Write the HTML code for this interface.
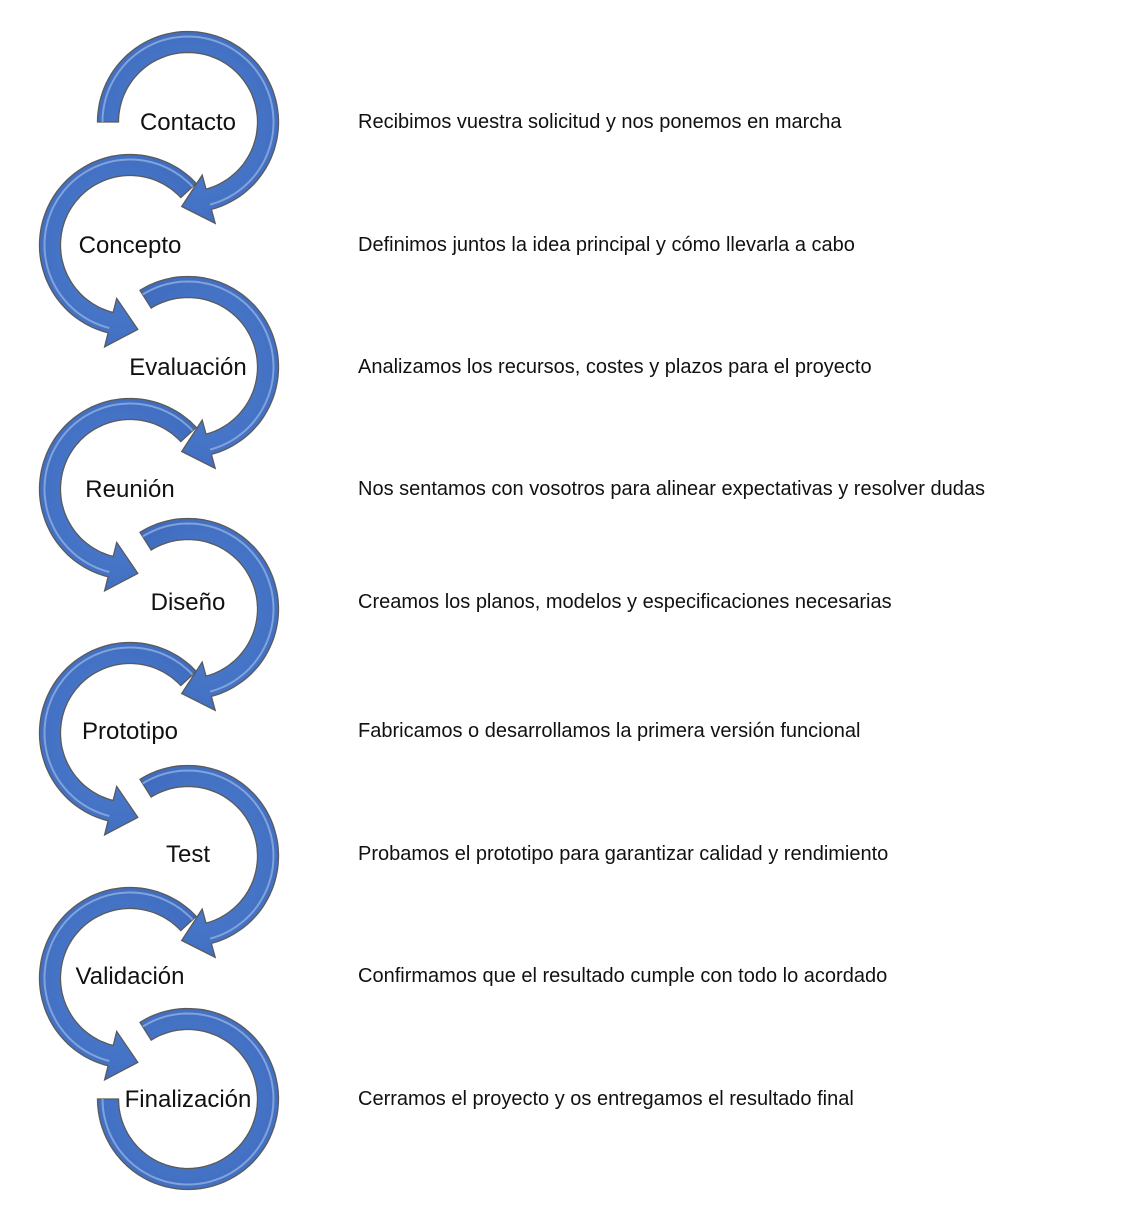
<!DOCTYPE html>
<html><head><meta charset="utf-8"><style>
body{margin:0;background:#fff;width:1138px;height:1206px;overflow:hidden;font-family:"Liberation Sans",sans-serif;}
svg{position:absolute;left:0;top:0}
</style></head><body>
<svg id="s" width="1138" height="1206" xmlns="http://www.w3.org/2000/svg">
<g id="g"></g>
<g font-family="Liberation Sans, sans-serif" fill="#111">
<g font-size="24" text-anchor="middle">
<text x="188" y="130">Contacto</text>
<text x="130" y="253">Concepto</text>
<text x="188" y="375">Evaluación</text>
<text x="130" y="497">Reunión</text>
<text x="188" y="610">Diseño</text>
<text x="130" y="739">Prototipo</text>
<text x="188" y="862">Test</text>
<text x="130" y="984">Validación</text>
<text x="188" y="1107">Finalización</text>
</g>
<g font-size="20">
<text x="358" y="128">Recibimos vuestra solicitud y nos ponemos en marcha</text>
<text x="358" y="251">Definimos juntos la idea principal y cómo llevarla a cabo</text>
<text x="358" y="373">Analizamos los recursos, costes y plazos para el proyecto</text>
<text x="358" y="495">Nos sentamos con vosotros para alinear expectativas y resolver dudas</text>
<text x="358" y="608">Creamos los planos, modelos y especificaciones necesarias</text>
<text x="358" y="737">Fabricamos o desarrollamos la primera versión funcional</text>
<text x="358" y="860">Probamos el prototipo para garantizar calidad y rendimiento</text>
<text x="358" y="982">Confirmamos que el resultado cumple con todo lo acordado</text>
<text x="358" y="1105">Cerramos el proyecto y os entregamos el resultado final</text>
</g></g>
</svg>
<script>
var g=document.getElementById('g'),h='';
var R=80,W=21;
function P(cx,cy,r,a){a=a*Math.PI/180;return [cx+r*Math.cos(a),cy+r*Math.sin(a)];}
function shape(cx,cy,a0,a1,arrow){
 var dir=a1>a0?1:-1,n=80,outer=[],inner=[];
 for(var i=0;i<=n;i++){var a=a0+(a1-a0)*i/n;outer.push(P(cx,cy,R+W/2,a));inner.push(P(cx,cy,R-W/2,a));}
 var pts=outer.slice();
 if(arrow){
  var a=a1*Math.PI/180,tx=-Math.sin(a)*dir,ty=Math.cos(a)*dir;
  var b1=P(cx,cy,R+25,a1),b2=P(cx,cy,R-25,a1),m=P(cx,cy,R,a1);
  pts.push(b1);pts.push([m[0]+tx*28,m[1]+ty*28]);pts.push(b2);
 }
 pts=pts.concat(inner.reverse());
 var d='M'+pts.map(function(p){return p[0].toFixed(1)+','+p[1].toFixed(1)}).join('L')+'Z';
 h+='<path d="'+d+'" fill="url(#gr)" stroke="#5a5a5a" stroke-width="1.3"/>';
 var hl=[];for(var i=0;i<=n;i++){var a2=a0+(a1-a0)*i/n;hl.push(P(cx,cy,R+W/2-5,a2));}
 h+='<path d="M'+hl.map(function(p){return p[0].toFixed(1)+','+p[1].toFixed(1)}).join('L')+'" fill="none" stroke="#9db8e6" stroke-width="2" opacity="0.7"/>';
}
var R1=[122,367,609,856],L1=[245,489,733,978];
shape(188,R1[0],180,435,true);
for(var k=1;k<4;k++){shape(188,R1[k],238,435,true);}
for(var k=0;k<4;k++){shape(130,L1[k],-43,-256,true);}
shape(188,1099,180,-122,false);
g.innerHTML='<defs><radialGradient id="gr" cx="50%" cy="50%" r="60%"><stop offset="0" stop-color="#4f7fd0"/><stop offset="1" stop-color="#3f6cbf"/></radialGradient></defs>'+h;
</script>
</body></html>
